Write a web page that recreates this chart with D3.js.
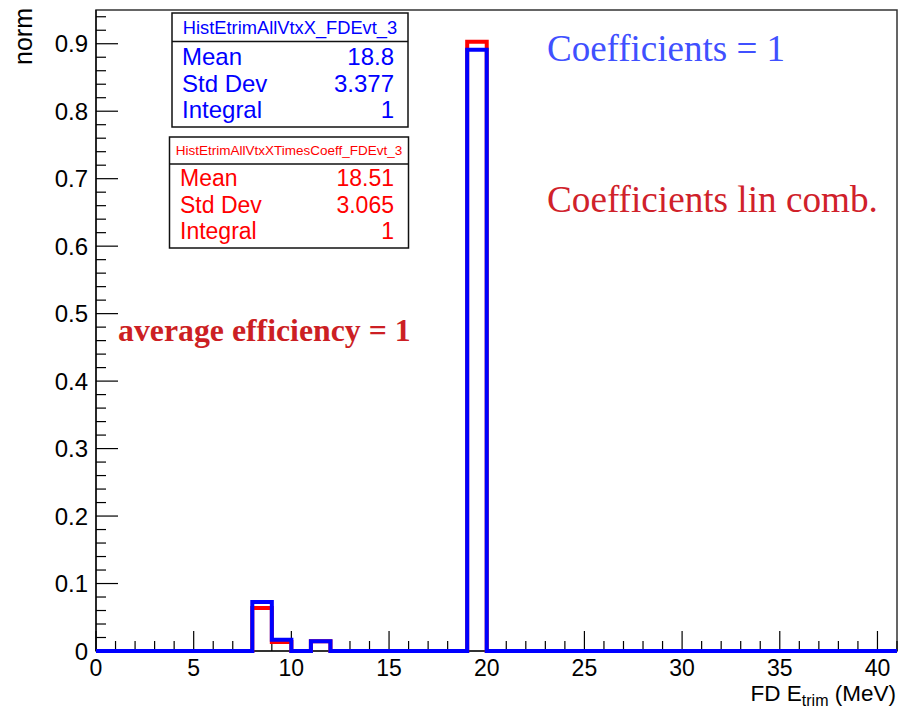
<!DOCTYPE html>
<html>
<head>
<meta charset="utf-8">
<script src="https://cdn.jsdelivr.net/npm/d3@7"></script>
<style>
  html, body { margin: 0; padding: 0; background: #fff; }
  svg { display: block; }
</style>
</head>
<body>
<svg id="chart" width="900" height="708"></svg>
<script>
// ---------- data ----------
const binEdges = d3.range(0, 42, 1);            // 41 bins of width 1 MeV, 0..41
// normalised contents (bins not listed are 0)
const blueBins = [8, 9, 11, 19];
const blueValues = [0.0726, 0.0165, 0.0145, 0.8910];
const redBins = [8, 9, 11, 19];
const redValues = [0.0637, 0.0135, 0.0145, 0.9030];
const yTickValues = [0, 0.1, 0.2, 0.3, 0.4, 0.5, 0.6, 0.7, 0.8, 0.9];
const yTickLabels = ["0", "0.1", "0.2", "0.3", "0.4", "0.5", "0.6", "0.7", "0.8", "0.9"];
const xTickValues = [0, 5, 10, 15, 20, 25, 30, 35, 40];
const blueStats = { title: "HistEtrimAllVtxX_FDEvt_3", rows: [["Mean", "18.8"], ["Std Dev", "3.377"], ["Integral", "1"]] };
const redStats = { title: "HistEtrimAllVtxXTimesCoeff_FDEvt_3", rows: [["Mean", "18.51"], ["Std Dev", "3.065"], ["Integral", "1"]] };

function fullBins(bins, vals) {
  const arr = new Array(binEdges.length - 1).fill(0);
  bins.forEach((b, i) => arr[b] = vals[i]);
  return arr;
}
const blueHist = fullBins(blueBins, blueValues);
const redHist = fullBins(redBins, redValues);

// ---------- layout ----------
const svg = d3.select("#chart");
const L = 96, R = 897, T = 10, B = 651;
const x = d3.scaleLinear().domain([0, 41]).range([L, R]);
const y = d3.scaleLinear().domain([0, 0.95]).range([B, T]);
const sans = "'Liberation Sans', Arial, Helvetica, sans-serif";
const serif = "'Liberation Serif', 'Times New Roman', serif";

// frame
svg.append("rect").attr("x", L).attr("y", T).attr("width", R - L).attr("height", B - T)
  .attr("fill", "white").attr("stroke", "#333").attr("stroke-width", 1.5);

// ticks (ROOT style, inside the frame)
const yMinor = d3.range(0, 0.95, 0.02);
svg.append("g").selectAll("line").data(yMinor).join("line")
  .attr("x1", L).attr("x2", d => (Math.abs(Math.round(d * 10) - d * 10) < 1e-6) ? L + 22 : L + 10)
  .attr("y1", d => y(d)).attr("y2", d => y(d))
  .attr("stroke", "#000").attr("stroke-width", 1.2);
const xMinor = d3.range(0, 42, 1);
svg.append("g").selectAll("line").data(xMinor).join("line")
  .attr("x1", d => x(d)).attr("x2", d => x(d))
  .attr("y1", B).attr("y2", d => d % 5 === 0 ? B - 20 : B - 10)
  .attr("stroke", "#000").attr("stroke-width", 1.2);

// axis lines
svg.append("line").attr("x1", L).attr("x2", L).attr("y1", T).attr("y2", B).attr("stroke", "#000").attr("stroke-width", 1.2);
svg.append("line").attr("x1", L).attr("x2", R).attr("y1", B).attr("y2", B).attr("stroke", "#000").attr("stroke-width", 1.2);

// tick labels
svg.append("g").selectAll("text").data(yTickValues).join("text")
  .attr("x", 88).attr("y", d => y(d) + 8.5)
  .attr("text-anchor", "end").attr("font-family", sans).attr("font-size", 24)
  .text((d, i) => yTickLabels[i]);
svg.append("g").selectAll("text").data(xTickValues).join("text")
  .attr("x", d => x(d)).attr("y", 675.5)
  .attr("text-anchor", "middle").attr("font-family", sans).attr("font-size", 23)
  .text(d => d);

// axis titles
const xt = svg.append("text").attr("x", 896).attr("y", 700.5).attr("text-anchor", "end")
  .attr("font-family", sans).attr("font-size", 22.5);
xt.append("tspan").text("FD E");
xt.append("tspan").attr("dy", 5).attr("font-size", 16).text("trim");
xt.append("tspan").attr("dy", -5).text(" (MeV)");
svg.append("text").attr("transform", "translate(31.5,8) rotate(-90)")
  .attr("text-anchor", "end").attr("font-family", sans).attr("font-size", 25).text("norm");

// histograms
function stepPoints(vals) {
  const pts = [];
  vals.forEach((v, i) => { pts.push([binEdges[i], v]); pts.push([binEdges[i + 1], v]); });
  return pts;
}
const line = d3.line().x(d => x(d[0])).y(d => y(d[1]));
svg.append("path").attr("d", line(stepPoints(redHist))).attr("fill", "none")
  .attr("stroke", "#ff0000").attr("stroke-width", 4).attr("stroke-linejoin", "miter");
svg.append("path").attr("d", line(stepPoints(blueHist))).attr("fill", "none")
  .attr("stroke", "#0000ff").attr("stroke-width", 4).attr("stroke-linejoin", "miter");

// stat boxes
function statBox(s, bx, by, bw, bh, titleH, titleSize, color, rowYs, labelX, valX, rowSize) {
  const g = svg.append("g");
  g.append("rect").attr("x", bx).attr("y", by).attr("width", bw).attr("height", bh)
    .attr("fill", "white").attr("stroke", "#111").attr("stroke-width", 1.5);
  g.append("line").attr("x1", bx).attr("x2", bx + bw).attr("y1", by + titleH).attr("y2", by + titleH)
    .attr("stroke", "#111").attr("stroke-width", 1.5);
  g.append("text").attr("x", bx + bw / 2).attr("y", by + titleH / 2 + titleSize * 0.36)
    .attr("text-anchor", "middle").attr("font-family", sans).attr("font-size", titleSize)
    .attr("fill", color).text(s.title);
  s.rows.forEach((r, i) => {
    g.append("text").attr("x", labelX).attr("y", rowYs[i]).attr("font-family", sans)
      .attr("font-size", rowSize).attr("fill", color).text(r[0]);
    g.append("text").attr("x", valX).attr("y", rowYs[i]).attr("text-anchor", "end").attr("font-family", sans)
      .attr("font-size", rowSize).attr("fill", color).text(r[1]);
  });
}
statBox(blueStats, 172, 13, 236, 114, 28.5, 18.3, "#0000ff", [65, 92, 118], 182, 394, 24);
statBox(redStats, 169.5, 137, 239, 111, 27, 13.5, "#ff0000", [186, 213, 239], 180, 394, 23);

// annotations
svg.append("text").attr("x", 547).attr("y", 61).attr("font-family", serif).attr("font-size", 37)
  .attr("fill", "#4050ff").text("Coefficients = 1");
svg.append("text").attr("x", 547).attr("y", 212).attr("font-family", serif).attr("font-size", 37.2)
  .attr("fill", "#d0212a").text("Coefficients lin comb.");
svg.append("text").attr("x", 118).attr("y", 341).attr("font-family", serif).attr("font-size", 31.8)
  .attr("font-weight", "bold").attr("fill", "#cc1f24").text("average efficiency = 1");
</script>
</body>
</html>
